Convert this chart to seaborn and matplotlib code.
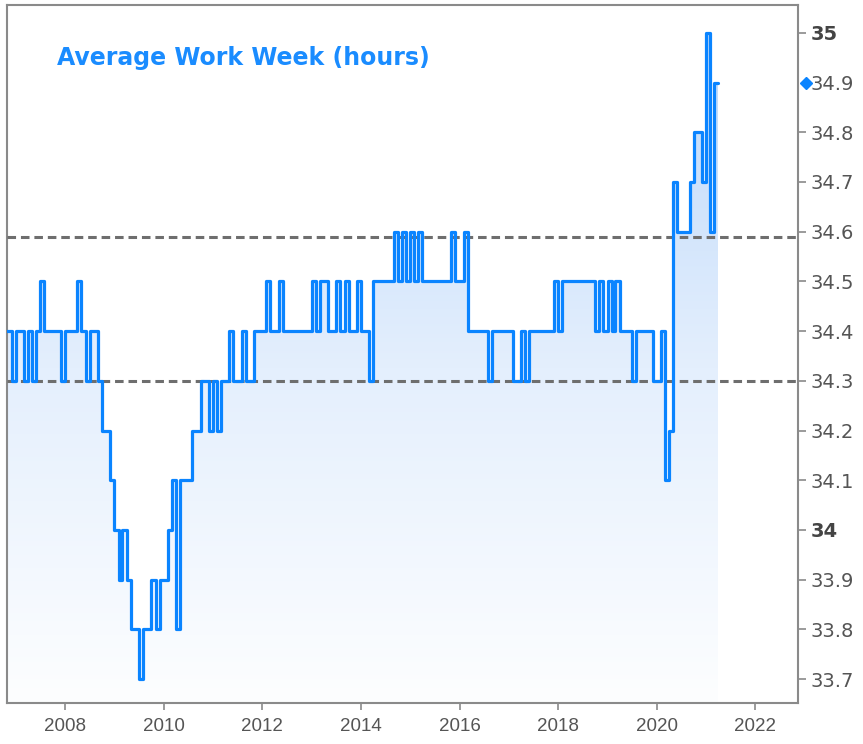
import numpy as np
import pandas as pd
import matplotlib
matplotlib.use("Agg")
import matplotlib.pyplot as plt
import matplotlib.transforms as mtransforms
from matplotlib.colors import LinearSegmentedColormap
import seaborn as sns

# ---------------- data ----------------
start_month = "2006-10-01"
hours_2006 = [34.4, 34.4, 34.3]
hours_2007 = [34.4, 34.4, 34.3, 34.4, 34.3, 34.4, 34.5, 34.4, 34.4, 34.4, 34.4, 34.3]
hours_2008 = [34.4, 34.4, 34.4, 34.5, 34.4, 34.3, 34.4, 34.4, 34.3, 34.2, 34.2, 34.1]
hours_2009 = [34.0, 33.9, 34.0, 33.9, 33.8, 33.8, 33.7, 33.8, 33.8, 33.9, 33.8, 33.9]
hours_2010 = [33.9, 34.0, 34.1, 33.8, 34.1, 34.1, 34.1, 34.2, 34.2, 34.3, 34.3, 34.2]
hours_2011 = [34.3, 34.2, 34.3, 34.3, 34.4, 34.3, 34.3, 34.4, 34.3, 34.3, 34.4, 34.4]
hours_2012 = [34.4, 34.5, 34.4, 34.4, 34.5, 34.4, 34.4, 34.4, 34.4, 34.4, 34.4, 34.4]
hours_2013 = [34.5, 34.4, 34.5, 34.5, 34.4, 34.4, 34.5, 34.4, 34.5, 34.4, 34.4, 34.5]
hours_2014 = [34.4, 34.4, 34.3, 34.5, 34.5, 34.5, 34.5, 34.5, 34.6, 34.5, 34.6, 34.5]
hours_2015 = [34.6, 34.5, 34.6, 34.5, 34.5, 34.5, 34.5, 34.5, 34.5, 34.5, 34.6, 34.5]
hours_2016 = [34.5, 34.6, 34.4, 34.4, 34.4, 34.4, 34.4, 34.3, 34.4, 34.4, 34.4, 34.4]
hours_2017 = [34.4, 34.3, 34.3, 34.4, 34.3, 34.4, 34.4, 34.4, 34.4, 34.4, 34.4, 34.5]
hours_2018 = [34.4, 34.5, 34.5, 34.5, 34.5, 34.5, 34.5, 34.5, 34.5, 34.4, 34.5, 34.4]
hours_2019 = [34.5, 34.4, 34.5, 34.4, 34.4, 34.4, 34.3, 34.4, 34.4, 34.4, 34.4, 34.3]
hours_2020 = [34.3, 34.4, 34.1, 34.2, 34.7, 34.6, 34.6, 34.6, 34.7, 34.8, 34.8, 34.7]
hours_2021 = [35.0, 34.6, 34.9, 34.9]

band_levels = [34.3, 34.59]
last_value = 34.9
ytick_values = [33.7, 33.8, 33.9, 34.0, 34.1, 34.2, 34.3, 34.4, 34.5, 34.6, 34.7, 34.8, 34.9, 35.0]
ytick_labels = ["33.7", "33.8", "33.9", "34", "34.1", "34.2", "34.3", "34.4", "34.5",
                "34.6", "34.7", "34.8", "34.9", "35"]
bold_labels = ["34", "35"]
xtick_years = [2008, 2010, 2012, 2014, 2016, 2018, 2020, 2022]
title = "Average Work Week (hours)"

hours = (hours_2006 + hours_2007 + hours_2008 + hours_2009 + hours_2010 + hours_2011
         + hours_2012 + hours_2013 + hours_2014 + hours_2015 + hours_2016 + hours_2017
         + hours_2018 + hours_2019 + hours_2020 + hours_2021)
dates = pd.date_range(start_month, periods=len(hours), freq="MS")
df = pd.DataFrame({"date": dates, "hours": hours})

# ---------------- style ----------------
LINE = "#0a84ff"
GREY_TXT = "#555555"
SPINE = "#8a8a8a"

sns.set_theme(style="white")
plt.rcParams["font.family"] = ["DejaVu Sans"]

fig = plt.figure(figsize=(8.63, 7.44), dpi=100)
ax = fig.add_axes([7 / 863, 1 - 703 / 744, 791 / 863, 698 / 744])

y_lo, y_hi = 33.652, 35.056
x_lo = pd.Timestamp("2006-10-28")
x_hi = pd.Timestamp("2022-11-12")

sns.lineplot(data=df, x="date", y="hours", ax=ax, color=LINE, lw=2.3,
             drawstyle="steps-post", zorder=4)

# gradient fill under the line
poly = ax.fill_between(df["date"], df["hours"], y_lo, step="post",
                       facecolor="none", edgecolor="none")
cmap = LinearSegmentedColormap.from_list("fillgrad", ["#fdfeff", "#e4effd", "#bcd8fa"])
grad = np.linspace(0, 1, 256).reshape(-1, 1)
xn0 = matplotlib.dates.date2num(x_lo)
xn1 = matplotlib.dates.date2num(df["date"].iloc[-1])
img = ax.imshow(grad, extent=[xn0, xn1, y_lo, 35.0], origin="lower", aspect="auto",
                cmap=cmap, zorder=1, interpolation="bilinear")
img.set_clip_path(poly.get_paths()[0], transform=ax.transData)

for lv in band_levels:
    ax.axhline(lv, color="#6e6e6e", lw=2.2, ls=(0, (2.8, 1.6)), zorder=3)

ax.set_xlim(x_lo, x_hi)
ax.set_ylim(y_lo, y_hi)
ax.set_xlabel("")
ax.set_ylabel("")
ax.grid(False)

for sp in ax.spines.values():
    sp.set_color(SPINE)
    sp.set_linewidth(1.5)

# y axis on the right
ax.yaxis.tick_right()
ax.set_yticks(ytick_values)
ax.set_yticklabels(ytick_labels)
ax.tick_params(axis="y", which="major", right=True, left=False, length=6, width=1.2,
               color=SPINE, labelsize=14, labelcolor=GREY_TXT, pad=3)
for lbl in ax.get_yticklabels():
    if lbl.get_text() in bold_labels:
        lbl.set_fontweight("bold")
        lbl.set_color("#444444")
idx = ytick_values.index(last_value)
ax.yaxis.get_major_ticks()[idx].tick2line.set_visible(False)

trans = mtransforms.blended_transform_factory(ax.transAxes, ax.transData)
ax.plot([1.0105], [last_value], marker="D", ms=6, color=LINE, transform=trans,
        clip_on=False, zorder=6)

# x axis
ax.set_xticks([pd.Timestamp(f"{y}-01-01") for y in xtick_years])
ax.set_xticklabels([str(y) for y in xtick_years])
ax.tick_params(axis="x", which="major", bottom=True, length=5, width=1.2, color=SPINE,
               labelsize=13.5, labelcolor=GREY_TXT, pad=6)
for lbl in ax.get_xticklabels():
    lbl.set_family(["Liberation Sans", "DejaVu Sans"])

fig.text(57 / 863, 1 - 58 / 744, title, color="#1a8cff", fontsize=17,
         fontweight="bold", ha="left", va="center")

fig.savefig("out.png", dpi=100)
